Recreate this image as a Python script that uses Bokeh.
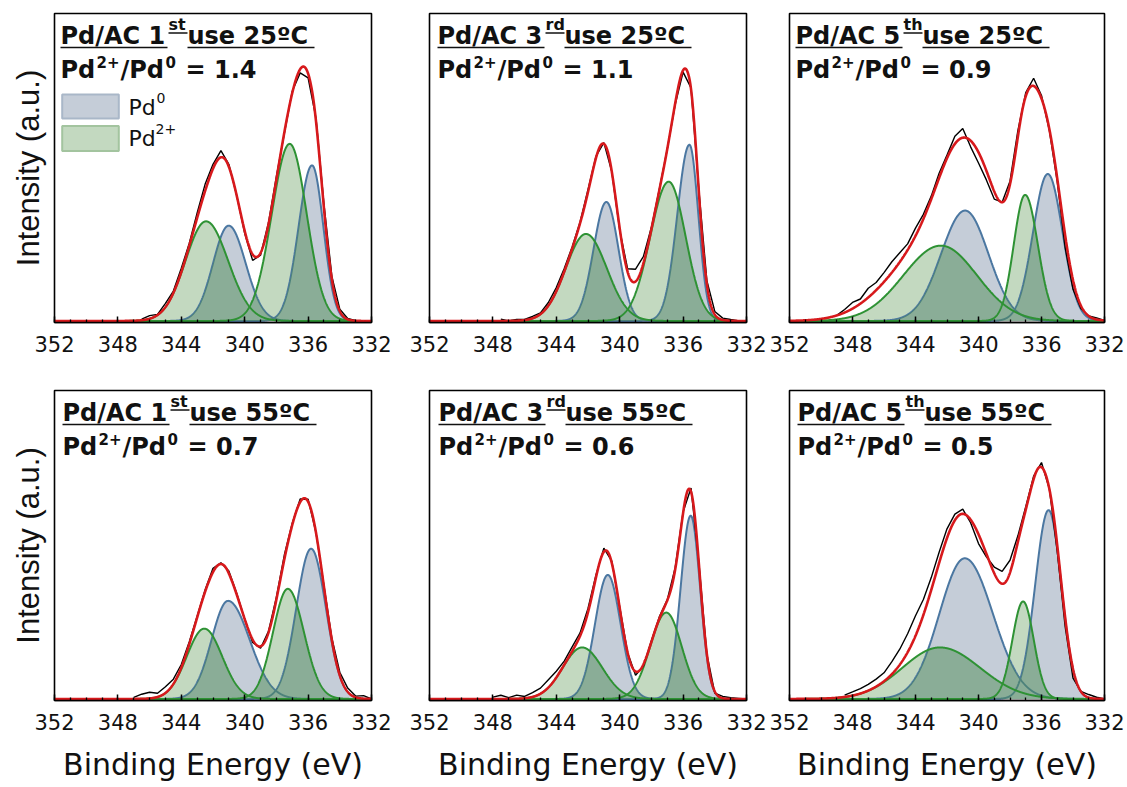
import numpy as np
from bokeh.plotting import figure
from bokeh.layouts import row, column
from bokeh.models import Range1d, FixedTicker
from bokeh.core.properties import value
from bokeh.embed import file_html
from bokeh.resources import INLINE

# ---------------- data ----------------
title_main = ["Pd/AC 1", "Pd/AC 3", "Pd/AC 5", "Pd/AC 1", "Pd/AC 3", "Pd/AC 5"]
title_sup = ["st", "rd", "th", "st", "rd", "th"]
title_rest = [" use 25ºC", " use 25ºC", " use 25ºC", " use 55ºC", " use 55ºC", " use 55ºC"]
ratio_text = ["1.4", "1.1", "0.9", "0.7", "0.6", "0.5"]

x_ticks = [352, 348, 344, 340, 336, 332]
x_minor = list(range(332, 353))

# Pd0 doublet (3d5/2, 3d3/2): centre (eV), height, half width high-BE side, half width low-BE side
pd0_center = [[335.75, 341.01], [335.60, 340.84], [335.60, 340.85], [335.81, 341.05], [335.52, 340.75], [335.55, 340.87]]
pd0_height = [[0.506, 0.310], [0.573, 0.387], [0.478, 0.359], [0.487, 0.318], [0.594, 0.402], [0.612, 0.456]]
pd0_hw_hi = [[1.00, 1.16], [0.90, 0.95], [1.10, 1.80], [1.10, 1.22], [0.75, 0.95], [1.00, 1.90]]
pd0_hw_lo = [[0.84, 1.26], [0.66, 0.90], [1.10, 1.75], [1.10, 1.60], [0.70, 0.95], [0.95, 2.10]]
# Pd2+ doublet
pd2_center = [[337.16, 342.44], [336.91, 342.13], [337.04, 342.39], [337.28, 342.55], [337.06, 342.37], [337.17, 342.45]]
pd2_height = [[0.576, 0.324], [0.453, 0.283], [0.410, 0.245], [0.357, 0.228], [0.280, 0.167], [0.316, 0.167]]
pd2_hw_hi = [[1.33, 1.52], [1.37, 1.50], [0.85, 2.80], [1.10, 1.30], [1.20, 1.45], [0.80, 2.80]]
pd2_hw_lo = [[1.26, 1.64], [1.26, 1.55], [0.95, 2.70], [1.20, 1.33], [1.15, 1.50], [0.80, 3.00]]
# background intensity in the smoothed spectrum not assigned to Pd components: centre, height, half width
bg_center = [[], [], [337.2, 339.2, 345.5], [], [], [336.3, 338.2]]
bg_height = [[], [], [0.13, 0.09, 0.05], [], [], [0.14, 0.09]]
bg_hw = [[], [], [2.0, 1.2, 2.5], [], [], [0.6, 1.3]]

# measured spectrum: deviation of the raw counts from the smoothed spectrum, 349 -> 332 eV every 0.5 eV
nan = float("nan")
raw_dev = [
    [nan] * 5 + [0.004, 0.010, 0.002, 0.012, 0.006, 0.012, 0.008, 0.016, 0.022, 0.014, 0.022, 0.008, 0.0,
                 -0.008, -0.020, -0.008, 0.006, 0.010, -0.004, 0.006, -0.012, -0.014, 0.010, 0.014, 0.010,
                 0.006, 0.003, 0.0, 0.0, 0.0],
    [nan] * 3 + [0.006, 0.0, 0.004, 0.002, 0.006, 0.004, 0.010, 0.012, 0.010, 0.006, 0.004, 0.008, 0.006,
                 0.004, 0.0, -0.006, 0.010, 0.040, 0.022, 0.006, 0.004, 0.0, -0.004, -0.006, 0.004, 0.008,
                 0.012, 0.010, 0.006, 0.004, 0.0, 0.0],
    [0.0, 0.010, 0.020, 0.015, 0.030, 0.025, 0.030, 0.035, 0.030, 0.020, 0.025, 0.015, 0.010, 0.015, 0.010,
     0.025, 0.030, -0.020, -0.035, -0.030, -0.025, 0.0, 0.010, 0.020, 0.012, 0.025, 0.010, -0.005, -0.010,
     -0.040, -0.030, -0.010, 0.0, 0.005, 0.0],
    [nan] * 4 + [0.005, 0.015, 0.020, 0.012, 0.020, 0.015, 0.010, 0.008, 0.004, 0.006, 0.012, 0.004, 0.008,
                 0.004, 0.0, -0.010, -0.006, 0.004, 0.008, 0.014, 0.006, 0.010, 0.008, 0.0, 0.004, 0.006,
                 0.010, 0.012, 0.004, 0.010, 0.0],
    [nan] * 2 + [0.006, 0.012, 0.004, 0.012, 0.006, 0.014, 0.018, 0.025, 0.020, 0.012, 0.014, 0.010, 0.012,
                 0.008, 0.012, 0.006, 0.004, 0.0, -0.012, -0.006, 0.004, 0.006, 0.002, 0.006, 0.004, 0.012,
                 0.004, 0.0, -0.006, 0.006, 0.004, 0.002, 0.0],
    [nan] + [0.006, 0.012, 0.016, 0.020, 0.024, 0.027, 0.040, 0.050, 0.060, 0.065, 0.050, 0.040, 0.035, 0.030,
             0.020, 0.015, -0.010, -0.030, -0.010, 0.020, 0.040, 0.040, 0.020, 0.010, 0.010, 0.015, 0.0,
             -0.020, -0.030, -0.030, 0.0, 0.010, 0.005, 0.0],
]
raw_start, raw_stop, raw_step = 349.0, 332.0, 0.5

# ---------------- styling ----------------
PD0_FILL, PD0_LINE = "#c5cdd8", "#4b77a1"
PD2_FILL, PD2_LINE = "#c3d9c0", "#2e9234"
OVL_FILL = "#508e55"
RED = "#d7191c"
TXT = "#111111"
FONT = "DejaVu Sans"

X0, X1 = 352, 332
YS, YE = -0.005, 1.0
frame_w = [317, 317, 315]
frame_h = [309, 310]
b_left = [54, 29, 22]
b_right = [29, 21, 23]
b_top = [13, 28]
b_bot = [40, 87]
title_x0 = [6, 8, 6, 8, 9, 8]
MID = 0.365  # text anchor sits this fraction of the font size above the baseline

E = np.linspace(X0, X1, 1601)


def peak(x, c, h, hw_hi, hw_lo):
    hw = np.where(x >= c, hw_hi, hw_lo)
    return h * np.exp(-np.log(2.0) * ((x - c) / hw) ** 2)


def smoothed(i, x):
    s = np.zeros_like(x)
    for k in range(2):
        s = s + peak(x, pd0_center[i][k], pd0_height[i][k], pd0_hw_hi[i][k], pd0_hw_lo[i][k])
        s = s + peak(x, pd2_center[i][k], pd2_height[i][k], pd2_hw_hi[i][k], pd2_hw_lo[i][k])
    for c, h, w in zip(bg_center[i], bg_height[i], bg_hw[i]):
        s = s + peak(x, c, h, w, w)
    return s


def make_panel(i):
    c, r = i % 3, i // 3
    fw, fh = frame_w[c], frame_h[r]
    p = figure(frame_width=fw, frame_height=fh,
               x_range=Range1d(X0, X1), y_range=Range1d(YS, YE),
               min_border_left=b_left[c], min_border_right=b_right[c],
               min_border_top=b_top[r], min_border_bottom=b_bot[r],
               output_backend="svg", toolbar_location=None)
    p.xgrid.visible = False
    p.ygrid.visible = False
    p.outline_line_color = "black"
    p.outline_line_width = 1.6
    p.outline_line_alpha = 1.0

    def at(rx, ry):
        return X0 - rx * (X0 - X1) / fw, YE - ry * (YE - YS) / fh

    blues = [peak(E, pd0_center[i][k], pd0_height[i][k], pd0_hw_hi[i][k], pd0_hw_lo[i][k]) for k in range(2)]
    greens = [peak(E, pd2_center[i][k], pd2_height[i][k], pd2_hw_hi[i][k], pd2_hw_lo[i][k]) for k in range(2)]
    ovl = np.minimum(np.maximum(blues[0], blues[1]), np.maximum(greens[0], greens[1]))

    for g in greens:
        p.varea(x=E, y1=0, y2=g, fill_color=PD2_FILL)
    for b in blues:
        p.varea(x=E, y1=0, y2=b, fill_color=PD0_FILL)
    for b in blues:
        p.line(E, b, line_color=PD0_LINE, line_width=2)
    p.varea(x=E, y1=0, y2=ovl, fill_color=OVL_FILL, fill_alpha=0.5)
    for g in greens:
        p.line(E, g, line_color=PD2_LINE, line_width=2)

    # raw spectrum
    re = np.arange(raw_start, raw_stop - 1e-9, -raw_step)
    p.line(re, smoothed(i, re) + np.array(raw_dev[i]), line_color="black", line_width=1.4)

    # smoothed spectrum
    p.line(E, smoothed(i, E), line_color=RED, line_width=2.6)

    # axes
    xa = p.xaxis[0]
    xa.ticker = FixedTicker(ticks=x_ticks, minor_ticks=x_minor)
    xa.major_label_text_font = FONT
    xa.major_label_text_font_size = "21px"
    xa.major_label_text_color = TXT
    xa.major_label_standoff = 13
    xa.major_tick_in = 6
    xa.major_tick_out = 0
    xa.minor_tick_in = 3
    xa.minor_tick_out = 0
    xa.axis_line_width = 1.6
    xa.major_tick_line_width = 1.5
    xa.minor_tick_line_width = 1.3
    if r == 1:
        xa.axis_label = "Binding Energy (eV)"
        xa.axis_label_text_font = FONT
        xa.axis_label_text_font_size = "30px"
        xa.axis_label_text_font_style = "normal"
        xa.axis_label_text_color = TXT
        xa.axis_label_standoff = 14

    ya = p.yaxis[0]
    if c == 0:
        ya.ticker = FixedTicker(ticks=[], minor_ticks=[])
        ya.axis_line_color = None
        ya.major_tick_line_color = None
        ya.minor_tick_line_color = None
        ya.axis_label = "Intensity (a.u.)"
        ya.axis_label_text_font = "Liberation Sans"
        ya.axis_label_text_font_size = "31px"
        ya.axis_label_text_font_style = "normal"
        ya.axis_label_text_color = TXT
        ya.axis_label_standoff = 9
    else:
        ya.visible = False

    x0 = title_x0[i]

    def txt(rx, ry_base, s, fs, style="bold"):
        x, y = at(rx, ry_base - MID * fs)
        p.text(x=[x], y=[y], text=[s], text_font=value(FONT), text_font_size=f"{fs}px",
               text_font_style=style, text_color=TXT, text_baseline="alphabetic", text_align="left")

    def uline(rx0, rx1, ry):
        ux0, uy = at(rx0, ry)
        ux1, _ = at(rx1, ry)
        p.segment(x0=[ux0], y0=[uy], x1=[ux1], y1=[uy], line_color=TXT, line_width=1.7)

    txt(x0, 31, title_main[i], 24)
    txt(x0 + 108, 17, title_sup[i], 16)
    txt(x0 + 127, 31, title_rest[i], 24)
    uline(x0, x0 + 107, 34)
    uline(x0 + 108, x0 + 127, 19.5)
    uline(x0 + 127, x0 + 254, 34)

    txt(x0, 65, "Pd", 24)
    txt(x0 + 36, 53.5, "2+", 15)
    txt(x0 + 60, 65, "/Pd", 24)
    txt(x0 + 105, 53.5, "0", 15)
    txt(x0 + 125, 65, "= " + ratio_text[i], 24)

    if i == 0:
        for (ry0, ry1, fc, lc) in [(81, 105, PD0_FILL, "#a9b7c8"), (112.5, 137.5, PD2_FILL, "#a3c49f")]:
            lx, ty = at(7.7, ry0)
            rx_, by = at(64.3, ry1)
            p.quad(left=[lx], right=[rx_], top=[ty], bottom=[by], fill_color=fc, line_color=lc, line_width=2)
        txt(74, 102, "Pd", 22, "normal")
        txt(102, 90, "0", 14, "normal")
        txt(74, 133, "Pd", 22, "normal")
        txt(101, 121, "2+", 14, "normal")
    return p


panels = [make_panel(i) for i in range(6)]
layout = column(row(*panels[:3]), row(*panels[3:]))
open("out.html", "w").write(file_html(layout, INLINE))
